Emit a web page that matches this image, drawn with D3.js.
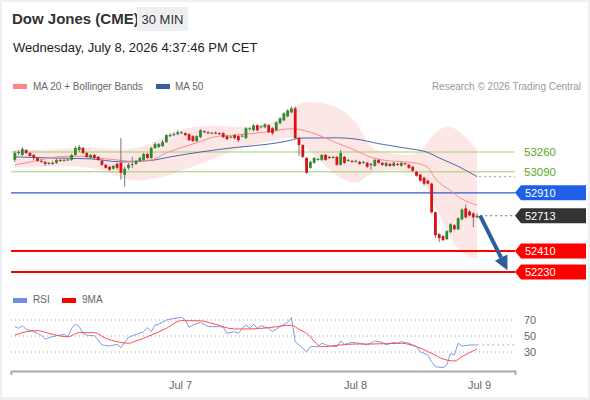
<!DOCTYPE html>
<html>
<head>
<meta charset="utf-8">
<script src="https://cdn.jsdelivr.net/npm/d3@7"></script>
<style>
  body { margin: 0; background: #fff; }
  svg { display: block; font-family: "Liberation Sans", Arial, Helvetica, sans-serif; }
  .lbl { font-size: 10px; fill: #666; }
  .axis path { stroke: #aaa; stroke-width: 2px; }
  .axis text { font-size: 11px; fill: #666; font-family: "Liberation Sans", Arial, sans-serif; }
</style>
</head>
<body>
<svg id="chart" width="590" height="400"></svg>
<script>
// 30 min candles
var open = [53192,53252,53235,53277,53252,53235,53209,53184,53175,53158,53167,53167,53192,53184,53188,53192,53235,53277,53294,53252,
            53209,53235,53218,53184,53150,53133,53116,53158,53167,53065,53124,53150,53158,53184,53192,53243,53209,53294,53303,53311,
            53345,53396,53405,53413,53422,53422,53413,53396,53354,53388,53439,53430,53417,53426,53422,53422,53396,53383,53405,53396,
            53392,53379,53456,53447,53490,53473,53473,53490,53464,53447,53507,53532,53566,53600,53634,53379,53320,53209,53124,53167,
            53192,53192,53235,53218,53209,53218,53150,53218,53184,53184,53175,53175,53167,53167,53158,53141,53192,53167,53141,53158,
            53141,53158,53141,53163,53150,53133,53090,53065,53039,53014,52988,52742,52555,52538,52512,52572,52631,52597,52682,52776,
            52750,52733,52699];
var high = [53269,53277,53303,53286,53260,53243,53218,53201,53184,53175,53184,53201,53201,53201,53209,53243,53311,53320,53303,53260,
            53243,53243,53226,53192,53158,53141,53150,53167,53379,53133,53167,53218,53192,53218,53252,53252,53303,53345,53337,53362,
            53413,53422,53430,53447,53439,53430,53422,53405,53405,53456,53447,53439,53430,53439,53430,53430,53405,53396,53413,53405,
            53413,53473,53473,53498,53498,53490,53507,53498,53473,53524,53558,53600,53626,53651,53651,53388,53328,53218,53184,53218,
            53209,53243,53243,53226,53226,53226,53277,53226,53201,53192,53192,53184,53184,53175,53167,53201,53201,53175,53175,53167,
            53175,53167,53175,53167,53158,53141,53099,53073,53048,53022,52997,52750,52563,52546,52589,52648,52640,52699,52776,52810,
            52759,52742,52733];
var low = [53175,53235,53226,53243,53218,53192,53175,53167,53141,53150,53150,53158,53175,53175,53184,53184,53226,53260,53243,53209,
            53201,53192,53184,53141,53116,53099,53107,53107,53022,52963,53107,53124,53150,53175,53184,53201,53201,53286,53294,53303,
            53337,53388,53396,53405,53413,53396,53354,53345,53345,53379,53422,53413,53413,53413,53405,53379,53362,53379,53371,53345,
            53388,53371,53447,53439,53439,53464,53464,53422,53405,53439,53498,53524,53558,53592,53371,53226,53209,53073,53116,53158,
            53184,53184,53184,53201,53201,53141,53141,53158,53175,53167,53167,53150,53158,53124,53107,53133,53158,53141,53133,53133,
            53133,53141,53133,53150,53116,53090,53048,53005,52971,52980,52733,52521,52487,52495,52504,52563,52589,52589,52674,52691,
            52708,52614,52691];
var close = [53252,53260,53286,53252,53226,53209,53184,53175,53158,53167,53158,53192,53184,53192,53196,53235,53294,53303,53252,53218,
            53235,53209,53192,53150,53124,53107,53141,53124,53082,53116,53150,53158,53184,53209,53243,53209,53294,53328,53328,53345,
            53405,53405,53413,53430,53430,53405,53362,53354,53396,53447,53430,53422,53426,53417,53413,53388,53371,53392,53379,53362,
            53400,53464,53464,53490,53447,53481,53498,53430,53422,53515,53549,53592,53617,53634,53379,53320,53218,53082,53175,53209,
            53201,53235,53192,53209,53218,53150,53252,53167,53192,53175,53184,53158,53175,53133,53150,53192,53167,53150,53167,53141,
            53167,53150,53167,53154,53124,53099,53056,53014,52988,52988,52742,52546,52521,52504,52580,52640,52597,52691,52767,52699,
            52716,52699,52713];

// moving averages and bands, sampled at candle indices
var ma20Idx = [0,5,9,14,18,22,28,31,36,40,44,49,53,58,67,73,78,85,90,93,97,106,109,111,115,118,122];
var ma20 = [53150,53180,53209,53222,53222,53209,53188,53180,53192,53252,53298,53349,53392,53405,53434,53460,53430,53337,53273,53226,
            53192,53163,53128,53031,52929,52857,52805];
var ma50Idx = [0,9,20,28,36,41,49,58,67,73,75,85,90,96,103,109,112,117,122];
var ma50 = [53218,53209,53201,53175,53188,53218,53260,53298,53328,53362,53379,53382,53371,53332,53294,53256,53209,53137,53048];
var bbIdx = [0,9,18,25,30,36,41,46,52,58,65,70,74,78,83,87,91,93,96,102,107,109,112,115,118,122];
var bbUp = [53277,53277,53303,53286,53277,53320,53422,53473,53490,53473,53481,53532,53668,53702,53668,53617,53490,53320,53260,53235,
            53235,53362,53464,53490,53422,53277];
var bbLow = [53124,53133,53141,53090,53005,53022,53065,53124,53192,53277,53345,53362,53405,53260,53107,53005,52988,53065,53107,53107,
            53065,52937,52724,52512,52384,52342];

// RSI panel
var rsiIdx = [0,1,2,3,5,7,8,9,11,13,14,15,16,17,18,19,21,22,23,25,27,28,29,30,31,32,34,35,36,37,38,40,42,44,45,46,47,49,50,51,
              54,55,56,58,59,60,61,62,63,64,65,67,68,70,72,73,74,75,77,78,80,81,83,85,86,87,89,91,93,95,97,98,100,101,102,104,
              106,107,109,110,111,113,114,115,116,117,118,120,122];
var rsi = [61.7,59.6,62.9,58.4,55.4,51,46,47.9,50.4,52,49,59.6,65,61.7,53.3,51,50.4,45,38.8,37.5,39.6,35.4,42,48.3,50.4,52,55.4,60.4,55.4,63.8,
           64.6,70,72,73.3,70,60.8,63.8,67,64.6,61.7,61.7,61,53.3,55.4,53.3,59.6,63.8,59.6,64.6,59.6,62.9,59.6,55.4,61.7,67,72.9,42.9,38.8,30.4,36.7,
           36.7,40.9,37.5,36.7,43.8,39.6,42,40.9,38.8,43.8,42,38.8,42,40.9,42.9,40.9,36.7,30.4,26.3,17.9,11.7,10.4,13.8,28.3,26.3,40.9,37.5,38.8,38.8];
var rsiMaIdx = [0,3,6,9,14,17,21,24,27,30,32,36,40,44,49,52,58,62,67,73,75,77,81,86,90,94,102,106,110,113,116,118,122];
var rsiMa = [51,55.4,56.7,53.3,49,54.2,54.2,47,42.9,40.9,43.8,51,59.6,69.2,69,65.9,58.8,58.8,60.4,63.5,58.4,53.3,36.7,38.8,40,40,40.9,36.7,28.3,21.3,
             18.75,24.2,33.8];
var rsiLevels = [70, 50, 30];

// key levels on the right
var levels = [
  { v: 53260, kind: "res" }, { v: 53090, kind: "res" },
  { v: 52910, kind: "pivot" }, { v: 52410, kind: "sup" }, { v: 52230, kind: "sup" }
];
var lastPrice = 52713;
var arrowTo = { i: 130, v: 52245 };

var dayTicks = [43.6, 89.8, 122.5];
var dayLabels = ["Jul 7", "Jul 8", "Jul 9"];

var svg = d3.select("#chart");
var x = d3.scaleLinear().domain([-1, 132]).range([11, 515]);
var y = d3.scaleLinear().domain([52230, 53260]).range([272, 152]);
var yr = d3.scaleLinear().domain([30, 70]).range([352, 320]);

// page background and card
svg.append("rect").attr("width", 590).attr("height", 400).attr("fill", "#eef0f3");
svg.append("rect").attr("x", 2).attr("y", 2).attr("width", 586).attr("height", 395).attr("fill", "#fff");

// header
svg.append("text").attr("x", 12).attr("y", 24).attr("font-size", 15).attr("font-weight", "bold")
  .attr("fill", "#333").text("Dow Jones (CME)");
svg.append("rect").attr("x", 137).attr("y", 7).attr("width", 51).attr("height", 24).attr("fill", "#eeeff1");
svg.append("text").attr("x", 162.5).attr("y", 24).attr("text-anchor", "middle").attr("font-size", 13)
  .attr("fill", "#333").text("30 MIN");
svg.append("text").attr("x", 13).attr("y", 52).attr("font-size", 13).attr("fill", "#222")
  .text("Wednesday, July 8, 2026 4:37:46 PM CET");

// legend
svg.append("rect").attr("x", 13).attr("y", 84).attr("width", 14).attr("height", 5).attr("fill", "#ff8585");
svg.append("text").attr("class", "lbl").attr("x", 33).attr("y", 90).text("MA 20 + Bollinger Bands");
svg.append("rect").attr("x", 156).attr("y", 84).attr("width", 14).attr("height", 5).attr("fill", "#3a5c9c");
svg.append("text").attr("class", "lbl").attr("x", 175).attr("y", 90).text("MA 50");
svg.append("text").attr("class", "lbl").attr("x", 581).attr("y", 90).attr("text-anchor", "end")
  .style("fill", "#999").text("Research \u00a9 2026 Trading Central");

// bollinger band
var band = d3.area()
  .x(function(d, i) { return x(bbIdx[i]); })
  .y0(function(d, i) { return y(bbLow[i]); })
  .y1(function(d, i) { return y(bbUp[i]); })
  .curve(d3.curveBasis);
svg.append("path").datum(bbIdx).attr("d", band).attr("fill", "#fde2e2").attr("opacity", 0.85);

// level lines
var lvlColor = { res: "#9fd16a", pivot: "#2b5bd4", sup: "#ff0000" };
svg.selectAll(".lvl").data(levels).enter().append("line")
  .attr("x1", 11).attr("x2", 515)
  .attr("y1", function(d) { return y(d.v); }).attr("y2", function(d) { return y(d.v); })
  .attr("stroke", function(d) { return lvlColor[d.kind]; })
  .attr("stroke-width", function(d) { return d.kind == "sup" ? 2 : d.kind == "pivot" ? 1.3 : 1; });

// moving averages
var ma50Line = d3.line().x(function(d, i) { return x(ma50Idx[i]); }).y(function(d) { return y(d); }).curve(d3.curveMonotoneX);
svg.append("path").datum(ma50).attr("d", ma50Line).attr("fill", "none").attr("stroke", "#4a6aa8").attr("stroke-width", 1);
svg.append("line").attr("x1", x(122) + 2).attr("x2", 515)
  .attr("y1", y(ma50[ma50.length - 1])).attr("y2", y(ma50[ma50.length - 1]))
  .attr("stroke", "#8aa0c8").attr("stroke-dasharray", "2,3");

var ma20Line = d3.line().x(function(d, i) { return x(ma20Idx[i]); }).y(function(d) { return y(d); }).curve(d3.curveMonotoneX);
svg.append("path").datum(ma20).attr("d", ma20Line).attr("fill", "none").attr("stroke", "#ff8a8a").attr("stroke-width", 1);

// candles
var cw = 2.8;
var candles = svg.append("g");
close.forEach(function(c, i) {
  var up = c >= open[i];
  var col = up ? "#2f8a2f" : "#dd1111";
  candles.append("line").attr("x1", x(i)).attr("x2", x(i))
    .attr("y1", y(high[i])).attr("y2", y(low[i])).attr("stroke", "#777").attr("stroke-width", 1);
  var top = y(Math.max(open[i], c)), bot = y(Math.min(open[i], c));
  candles.append("rect").attr("x", x(i) - cw / 2).attr("y", top)
    .attr("width", cw).attr("height", Math.max(1, bot - top)).attr("fill", col);
});

// last price dotted
svg.append("line").attr("x1", x(122) + 3).attr("x2", 515)
  .attr("y1", y(lastPrice)).attr("y2", y(lastPrice))
  .attr("stroke", "#777").attr("stroke-dasharray", "2,3");

// arrow
var ax1 = x(122) + 3, ay1 = y(lastPrice), ax2 = x(arrowTo.i), ay2 = y(arrowTo.v);
var ang = Math.atan2(ay2 - ay1, ax2 - ax1);
var hl = 14, hw = 7;
var bx = ax2 - hl * Math.cos(ang), by = ay2 - hl * Math.sin(ang);
svg.append("line").attr("x1", ax1).attr("y1", ay1).attr("x2", bx).attr("y2", by)
  .attr("stroke", "#2d5f9e").attr("stroke-width", 4);
svg.append("path").attr("fill", "#2d5f9e").attr("d",
  "M" + ax2 + "," + ay2 +
  "L" + (bx + hw * Math.sin(ang)) + "," + (by - hw * Math.cos(ang)) +
  "L" + (bx - hw * Math.sin(ang)) + "," + (by + hw * Math.cos(ang)) + "Z");

// tags
function tag(v, fill, txtCol) {
  var yy = y(v);
  svg.append("path").attr("fill", fill)
    .attr("d", "M515," + yy + "L521," + (yy - 7.5) + "L586," + (yy - 7.5) + "L586," + (yy + 7.5) + "L521," + (yy + 7.5) + "Z");
  svg.append("text").attr("x", 525).attr("y", yy + 4).attr("font-size", 11).attr("fill", txtCol).text(v);
}
levels.forEach(function(d) {
  if (d.kind == "res") {
    svg.append("text").attr("x", 524).attr("y", y(d.v) + 4).attr("font-size", 11.5).attr("fill", "#5aa61e").text(d.v);
  } else if (d.kind == "pivot") {
    tag(d.v, "#1f5fe8", "#fff");
  } else {
    tag(d.v, "#ff0000", "#fff");
  }
});
tag(lastPrice, "#333", "#fff");

// RSI panel
svg.append("rect").attr("x", 13).attr("y", 298).attr("width", 14).attr("height", 5).attr("fill", "#6d8fe6");
svg.append("text").attr("class", "lbl").attr("x", 33).attr("y", 303).text("RSI");
svg.append("rect").attr("x", 62).attr("y", 298).attr("width", 14).attr("height", 5).attr("fill", "#ff0000");
svg.append("text").attr("class", "lbl").attr("x", 82).attr("y", 303).text("9MA");

svg.selectAll(".rl").data(rsiLevels).enter().append("line")
  .attr("x1", 11).attr("x2", 515)
  .attr("y1", function(d) { return yr(d); }).attr("y2", function(d) { return yr(d); })
  .attr("stroke", "#aaa").attr("stroke-dasharray", "1,3");
svg.selectAll(".rt").data(rsiLevels).enter().append("text")
  .attr("x", 524).attr("y", function(d) { return yr(d) + 4; })
  .attr("font-size", 11).attr("fill", "#666").text(function(d) { return d; });

var rsiLine = d3.line().x(function(d, i) { return x(rsiIdx[i]); }).y(function(d) { return yr(d); });
svg.append("path").datum(rsi).attr("d", rsiLine).attr("fill", "none").attr("stroke", "#7e9ce8").attr("stroke-width", 1);
svg.append("line").attr("x1", x(122)).attr("x2", 515)
  .attr("y1", yr(rsi[rsi.length - 1])).attr("y2", yr(rsi[rsi.length - 1]))
  .attr("stroke", "#9bb2ec").attr("stroke-dasharray", "2,3");

var maLine = d3.line().x(function(d, i) { return x(rsiMaIdx[i]); }).y(function(d) { return yr(d); }).curve(d3.curveMonotoneX);
svg.append("path").datum(rsiMa).attr("d", maLine).attr("fill", "none").attr("stroke", "#ff4d4d").attr("stroke-width", 1);

// time axis
var xAxis = d3.axisBottom(x).tickValues(dayTicks)
  .tickFormat(function(d, i) { return dayLabels[i]; })
  .tickSize(0).tickSizeOuter(4).tickPadding(10);
svg.append("g").attr("class", "axis").attr("transform", "translate(0,371)").call(xAxis);
</script>
</body>
</html>
